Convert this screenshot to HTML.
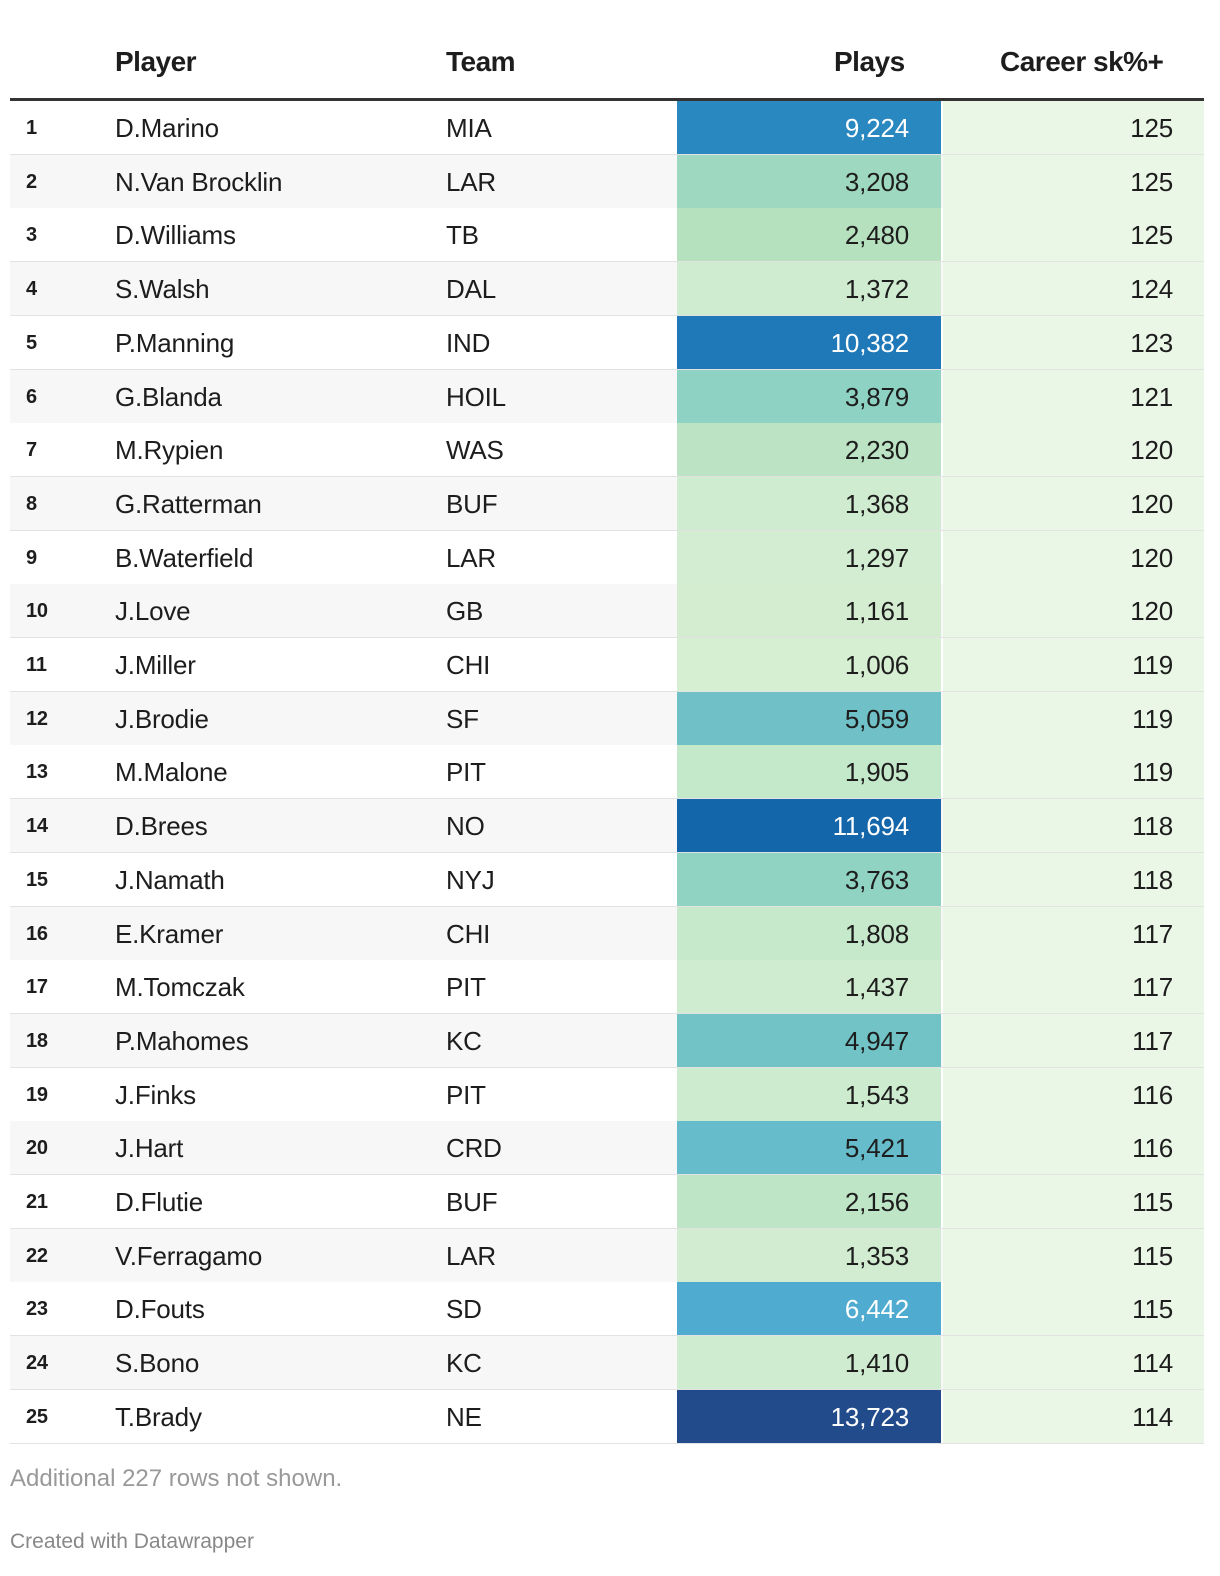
<!DOCTYPE html>
<html><head><meta charset="utf-8">
<style>
body{margin:0;width:1220px;height:1576px;background:#fff;font-family:"Liberation Sans",sans-serif;color:#1d1d1d;position:relative;overflow:hidden}
.h{position:absolute;top:46px;font-weight:bold;font-size:28px;letter-spacing:-0.5px}
#hline{position:absolute;left:10px;top:98px;width:1194px;height:3px;background:#333}
.row{position:absolute;left:10px;width:1194px;height:54px;border-bottom:1px solid #e2e2e2;box-sizing:border-box}
.row div{position:absolute;top:0;height:53px;line-height:54px;font-size:26px;letter-spacing:-0.2px}
.rk{left:16px;font-weight:bold;font-size:20px!important}
.pl{left:105px}
.tm{left:436px}
.pc{left:667px;width:264px;text-align:right;box-sizing:border-box;padding-right:32px}
.sc{left:933px;width:261px;text-align:right;box-sizing:border-box;padding-right:31px;background:#ebf7e6}
.note{position:absolute;left:10px;font-size:24px;color:#999}
</style></head><body>
<div class="h" style="left:115px">Player</div>
<div class="h" style="left:446px">Team</div>
<div class="h" style="left:834px">Plays</div>
<div class="h" style="left:1000px">Career sk%+</div>
<div id="hline"></div>
<div id="rows"></div>
<div class="note" style="top:1465px">Additional 227 rows not shown.</div>
<div class="note" style="top:1530px;font-size:21px;color:#888">Created with Datawrapper</div>
<script>
const players=["D.Marino","N.Van Brocklin","D.Williams","S.Walsh","P.Manning","G.Blanda","M.Rypien","G.Ratterman","B.Waterfield","J.Love","J.Miller","J.Brodie","M.Malone","D.Brees","J.Namath","E.Kramer","M.Tomczak","P.Mahomes","J.Finks","J.Hart","D.Flutie","V.Ferragamo","D.Fouts","S.Bono","T.Brady"];
const teams=["MIA","LAR","TB","DAL","IND","HOIL","WAS","BUF","LAR","GB","CHI","SF","PIT","NO","NYJ","CHI","PIT","KC","PIT","CRD","BUF","LAR","SD","KC","NE"];
const plays=[9224,3208,2480,1372,10382,3879,2230,1368,1297,1161,1006,5059,1905,11694,3763,1808,1437,4947,1543,5421,2156,1353,6442,1410,13723];
const sk=[125,125,125,124,123,121,120,120,120,120,119,119,119,118,118,117,117,117,116,116,115,115,115,114,114];
const stopV=[1000,1400,2000,2500,3200,3900,5000,5400,6400,9200,10400,11700,13800];
const stopC=[[214,238,210],[208,236,208],[194,231,201],[180,225,191],[158,216,192],[141,210,195],[112,194,198],[102,188,203],[80,172,208],[42,136,192],[31,120,184],[20,102,170],[35,74,138]];
function col(v){let i=0;while(i<stopV.length-2&&v>stopV[i+1])i++;let t=Math.max(0,Math.min(1,(v-stopV[i])/(stopV[i+1]-stopV[i])));const c=stopC[i].map((a,k)=>Math.round(a+(stopC[i+1][k]-a)*t));return `rgb(${c})`;}
const fmt=v=>v.toLocaleString('en-US');
const root=document.getElementById('rows');
const RH=53.7;
players.forEach((p,i)=>{
  const r=document.createElement('div');
  r.className='row';
  
  
  r.style.top=(101+i*RH)+'px';
  r.style.background=i%2?'#f7f7f7':'#fff';
  const cells=[['rk',String(i+1),'rank-cell'],['pl',p,'player-cell'],['tm',teams[i],'team-cell'],['pc',fmt(plays[i]),'plays-cell'],['sc',String(sk[i]),'career-sk-cell']];
  cells.forEach(([c,t,n])=>{
    const d=document.createElement('div');
    d.className=c;d.textContent=t;
    
    
    if(c==='pc'){d.style.background=col(plays[i]);if(plays[i]>6000)d.style.color='#fff';}
    r.appendChild(d);
  });
  root.appendChild(r);
});
</script>
</body></html>
